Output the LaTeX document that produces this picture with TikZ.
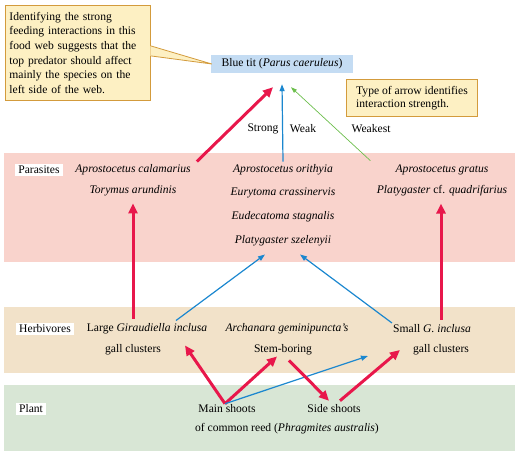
\documentclass[tikz,border=0pt]{standalone}
\usepackage{fontspec}
\setmainfont{Liberation Serif}
\usetikzlibrary{calc}
\usetikzlibrary{arrows.meta}
\definecolor{notefill}{HTML}{FDF0C3}
\definecolor{noteline}{HTML}{D39B3C}
\definecolor{titfill}{HTML}{C4DCF3}
\definecolor{parafill}{HTML}{F9D3CC}
\definecolor{herbfill}{HTML}{F2E2C9}
\definecolor{plantfill}{HTML}{D8E6D5}
\definecolor{strongred}{HTML}{E8174B}
\definecolor{weakblue}{HTML}{1B87CF}
\definecolor{weakgreen}{HTML}{6CBE4C}
\tikzset{
  tag/.style= {fill=white, inner xsep=3, inner ysep=2},
  sp/.style= {inner sep=1, execute at begin node=\itshape},
  txt/.style= {inner sep=1},
  note/.style= {draw=noteline, fill=notefill, line width=0.8, align=left},
  strong/.style= {draw=strongred, line width=3, -{Triangle[length=10pt,width=9pt]}},
  weak/.style= {draw=weakblue, line width=1.2, -{Triangle[length=7pt,width=5pt]}},
  weakest/.style= {draw=weakgreen, line width=0.7, -{Triangle[length=6pt,width=4pt]}},
}

\begin{document}
\begin{tikzpicture}[x=1pt, y=-1pt, font=\fontsize{11.6}{13}\selectfont]
  \useasboundingbox (0,0) rectangle (519,457) ;
  \fill [parafill] (4,153) rectangle (515,262) ;
  \fill [herbfill] (4,307) rectangle (515,373) ;
  \fill [plantfill] (4,385) rectangle (515,451) ;

  \node [note, anchor=north west, minimum width=145, minimum height=95, text width=137, inner xsep=4,
    font=\fontsize{11.6}{14.6}\selectfont] (callout) at (5,5)
    {Identifying the strong\\feeding interactions in this\\food web suggests that the\\top predator should affect\\mainly the species on the\\left side of the web.} ;
  \node [fill=titfill, minimum width=142, minimum height=18, inner sep=0] (tit) at (282,64) {Blue tit (\textit{Parus caeruleus})} ;
  \fill [notefill] ($(callout.east)+(-0.4,-7)$) -- ([xshift=1]tit.west) -- ($(callout.east)+(-0.4,3)$) -- cycle ;
  \draw [noteline, line width=0.8] ($(callout.east)+(0,-7)$) -- ([xshift=1]tit.west) -- ($(callout.east)+(0,3)$) ;
  \node [note, minimum width=131, minimum height=37, inner xsep=4] (key) at (412,98) {Type of arrow identifies\\interaction strength.} ;

  \node [txt] (strg) at (263,129) {Strong} ;
  \node [txt] (wk) at (303,129) {Weak} ;
  \node [txt] (wkst) at (371,129) {Weakest} ;

  \node [tag] (para) at (39,170) {Parasites} ;
  \node [sp] (calam) at (133,170) {Aprostocetus calamarius} ;
  \node [sp] (tory) at (133,191) {Torymus arundinis} ;
  \node [sp] (orith) at (283,170) {Aprostocetus orithyia} ;
  \node [sp] (eury) at (283,193) {Eurytoma crassinervis} ;
  \node [sp] (eude) at (283,217) {Eudecatoma stagnalis} ;
  \node [sp] (szel) at (283,241) {Platygaster szelenyii} ;
  \node [sp] (grat) at (442,170) {Aprostocetus gratus} ;
  \node [txt] (quad) at (442,191) {\textit{Platygaster} cf. \textit{quadrifarius}} ;

  \node [tag] (herb) at (45,329) {Herbivores} ;
  \node [txt] (large) at (147,329) {Large \textit{Giraudiella inclusa}} ;
  \node [txt] (gall1) at (133,350) {gall clusters} ;
  \node [sp] (arch) at (287,329) {Archanara geminipuncta's} ;
  \node [txt] (stem) at (283,350) {Stem-boring} ;
  \node [txt] (small) at (432,329) {Small \textit{G. inclusa}} ;
  \node [txt] (gall2) at (441,350) {gall clusters} ;

  \node [tag] (plant) at (31,409) {Plant} ;
  \node [txt] (main) at (227,409) {Main shoots} ;
  \node [txt] (side) at (334,409) {Side shoots} ;
  \node [txt] (reed) at (287,429) {of common reed (\textit{Phragmites australis})} ;

  \draw [strong] ([xshift=5,yshift=2]calam.north east) -- ([xshift=-9,yshift=-14]tit.south) ;
  \draw [weak] ([yshift=2]orith.north) -- ([yshift=-11]tit.south) ;
  \draw [weakest] ([xshift=-24,yshift=3]grat.north west) -- ([xshift=9,yshift=-14]tit.south) ;

  \draw [strong] ($(tory.south |- large.north)+(0,-4)$) -- ([yshift=-6]tory.south) ;
  \draw [strong] ($(gall2.south |- small.north)+(0,-4)$) -- ($(gall2.south |- quad.south)+(0,6)$) ;
  \draw [weak] ([xshift=29,yshift=2]large.north) -- ([xshift=-18,yshift=-7]szel.south) ;
  \draw [weak] ([yshift=6]small.west) -- ([xshift=17,yshift=-7]szel.south) ;

  \draw [strong] ([xshift=-2]main.north) -- ([xshift=38,yshift=-10]large.south) ;
  \draw [strong] ([xshift=-2]main.north) -- ([xshift=-6]stem.south) ;
  \draw [weak] ([xshift=-2]main.north) -- ([xshift=-44,yshift=-6]gall2.west) ;
  \draw [strong] ([xshift=6,yshift=-4]stem.south) -- ([xshift=-5,yshift=3]side.north) ;
  \draw [strong] ([xshift=6,yshift=3]side.north) -- ([xshift=-12]gall2.west) ;
\end{tikzpicture}
\end{document}
